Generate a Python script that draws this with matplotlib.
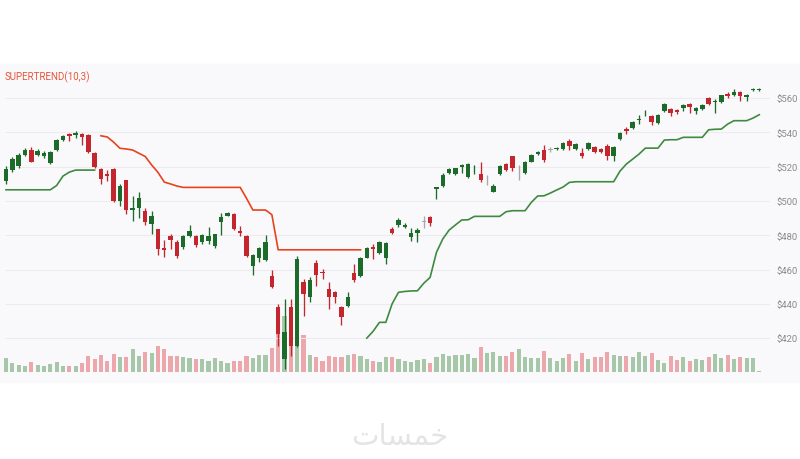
import numpy as np
import matplotlib
matplotlib.use("Agg")
import matplotlib.pyplot as plt
from matplotlib.patches import Rectangle

# daily candles, index 0..119
open_ = [511.5, 518, 520.5, 527, 530, 527, 526, 522, 529.5, 535.5,
         539, 538.5, 539, 538.5, 528, 518.5, 515.5, 518.5, 500, 512,
         494.5, 496, 494, 486.5, 483.5, 472.5, 479.5, 476, 473, 479.5,
         479.5, 476, 476.5, 473.5, 487.5, 491.5, 492.5, 482.5, 479.5, 462,
         466.5, 465.5, 456.5, 438, 408, 438, 415.5, 453, 444, 464,
         458.5, 448.5, 447, 438, 438.5, 458, 456, 467, 473, 469.5,
         467, 483.5, 486, 485, 479, 481.5, 488, 490.5, 507, 508.5,
         516.5, 515.5, 520, 514, 519, 515.5, 512, 505.5, 515.5, 521.5,
         526, 519, 516.5, 523, 527.5, 530, 530, 530.5, 530.5, 535,
         530.5, 528, 530.5, 531.5, 530.5, 532, 526.5, 536, 542, 542.5,
         547, 551, 549.5, 545.5, 552.5, 553.5, 553, 554, 556.5, 552.5,
         553.5, 560, 557.5, 557.5, 562.5, 561.5, 563.5, 560.5, 564.5, 564.5]
high = [520.5, 525.5, 528, 531, 531.5, 530.5, 529, 529, 536, 538.5,
        539.5, 540.5, 539.5, 539, 528.5, 519.5, 518, 519, 510, 512.5,
        503, 505, 496, 494, 483.5, 477, 481, 477, 480, 486,
        480, 481, 485, 481, 493, 493.5, 493, 485.5, 480, 469,
        473, 480, 460, 440, 443, 443, 468, 454.5, 455.5, 465.5,
        460.5, 452.5, 447.5, 438.5, 447, 463, 467.5, 473, 475, 476.5,
        476, 485, 490, 487, 484.5, 484.5, 491.5, 491, 508, 516.5,
        519, 519.5, 521.5, 522, 521, 522.5, 515, 510, 521, 522,
        526.5, 521, 523.5, 527.5, 529, 532.5, 531.5, 531.5, 534.5, 536,
        533.5, 531, 534.5, 532, 531, 533, 532, 540, 543, 546.5,
        550, 553, 550, 550.5, 557, 554, 553.5, 556.5, 557, 555,
        556.5, 560.5, 559.5, 562, 563.5, 565, 564, 562.5, 566, 566]
low = [510, 517, 519.5, 526, 522.5, 526, 525, 521.5, 529, 535,
       535, 536.5, 532.5, 528, 519.5, 510, 511.5, 499.5, 497, 492.5,
       488.5, 490, 486, 480.5, 468.5, 467.5, 472, 466.5, 472, 479,
       473, 475, 475, 472.5, 480, 491, 483, 479.5, 467.5, 457,
       464.5, 465, 449.5, 415.5, 402, 409.5, 415, 433, 441, 450.5,
       454.5, 437, 440.5, 427.5, 438, 453, 455.5, 466.5, 466, 469,
       463, 480.5, 485, 484, 476.5, 476, 484.5, 485.5, 501, 508,
       516, 515, 516.5, 513.5, 515.5, 511, 509.5, 505, 515, 517.5,
       517.5, 512, 516, 522.5, 527, 522.5, 528.5, 530, 530, 530,
       530, 525, 530, 528, 528, 524, 523.5, 535.5, 539, 542,
       545, 549.5, 544, 545, 552, 549.5, 550.5, 552.5, 551.5, 550.5,
       553, 556, 551, 557, 560, 561, 558.5, 558.5, 564, 564]
close = [518.5, 524.5, 527, 530, 523, 529, 528, 528.5, 535.5, 538,
         538, 539.5, 537, 528.5, 520, 513, 514.5, 500, 509, 494.5,
         496, 501.5, 488, 491.5, 472, 471.5, 477, 468, 479.5, 482.5,
         474.5, 480, 479.5, 480.5, 490.5, 493, 483.5, 481.5, 468, 468.5,
         472.5, 476, 450, 422.5, 423.5, 415.5, 466, 445.5, 454, 457,
         458, 444, 444, 432.5, 444, 454, 467, 472.5, 472, 476,
         475.5, 481.5, 489, 486, 481.5, 483, 488, 487, 508, 515,
         518.5, 519, 521, 521.5, 519.5, 512.5, 512, 509, 520.5, 518,
         519.5, 519, 523, 527, 528.5, 524, 530, 531, 534, 532,
         533, 526.5, 534, 528.5, 528.5, 526.5, 531.5, 539.5, 540.5, 546,
         548, 551.5, 546, 550, 556.5, 551.5, 552, 556, 555, 554,
         556, 556.5, 558, 561.5, 561, 563.5, 561, 562, 565, 565.5]
volume = [14, 9, 7.3, 6.7, 10, 7.3, 6.7, 8.3, 10, 6,
          6.7, 6.7, 9, 16, 13.3, 17.5, 11.7, 18.3, 15, 15,
          23.3, 16, 20, 19, 26.7, 23.3, 16, 16, 15, 14.3,
          13.3, 13.3, 11.7, 14, 11.7, 9, 11.7, 11.7, 16, 14.3,
          17.7, 17.3, 24, 38, 56, 40, 30, 37, 17.3, 15,
          11.7, 16.7, 15, 15, 17.3, 18.3, 16.7, 13.3, 11.7, 10,
          15.7, 15, 13.3, 11.7, 10.7, 12.3, 13.3, 9.3, 15.7, 18.3,
          16.7, 17.3, 17.3, 18.3, 14, 25, 19.3, 20, 16, 16,
          20, 23.3, 15.7, 14, 14, 21, 14, 11.7, 14, 18.3,
          11.7, 19.3, 13.3, 15, 15, 20.7, 17.3, 16, 16, 15,
          20, 16, 19.3, 12.7, 9.3, 16, 12.7, 15, 11.7, 13.3,
          12.3, 15, 18.3, 14, 17.3, 13.3, 15, 14, 14, 1.7]

# supertrend(10,3): uptrend band, downtrend band, uptrend band again
st_up_1 = [506.5, 506.5, 506.5, 506.5, 506.5, 506.5, 506.5, 506.5, 509, 514.5,
           516.8, 518, 518, 518, 518]
st_down = [538, 537.3, 534.3, 530.7, 530.3, 529.7, 527.8, 525.9, 521, 516.7,
           511, 509.9, 508.7, 507.9, 507.9, 507.9, 507.9, 507.9, 507.9, 507.9,
           507.9, 507.9, 507.9, 501.5, 494.7, 494.7, 494.7, 492, 471.5, 471.5,
           471.5, 471.5, 471.5, 471.5, 471.5, 471.5, 471.5, 471.5, 471.5, 471.5,
           471.5, 471.5]
st_up_2 = [420, 424, 429.2, 429.2, 440, 446.7, 447.2, 447.5, 447.6, 452,
           455.4, 470, 477.8, 483, 486, 488.9, 489, 491, 491, 491,
           491, 491, 493.7, 494.3, 494.3, 494.3, 499.2, 502.9, 503, 504.6,
           506.4, 508.1, 510.8, 511.2, 511.2, 511.2, 511.2, 511.2, 511.2, 511.2,
           517.4, 521.5, 524.4, 527.3, 530.8, 530.8, 530.8, 535.5, 535.7, 535.7,
           537.1, 537.1, 537.1, 537.1, 541.5, 541.8, 541.9, 544.8, 546.8, 546.8,
           546.8, 548.3, 550.3]

price_ticks = [420, 440, 460, 480, 500, 520, 540, 560]

GREEN = "#1d6b2a"
RED = "#c3262d"
GRAY = "#a8a8a8"
VOL_GREEN = "#a6c8a8"
VOL_RED = "#eba7ab"

fig = plt.figure(figsize=(8, 4.6), dpi=100)
fig.patch.set_facecolor("white")
# light panel behind the chart
fig.patches.append(Rectangle((0, 77 / 460), 1, 318 / 460, transform=fig.transFigure,
                             color="#f9f9fc", zorder=0))

rect = [0, 77 / 460, 770 / 800, 316 / 460]
xlim = (-0.948, -0.948 + 770 / 6.33)

o = np.array(open_)
c = np.array(close)
x = np.arange(len(o))
up = c > o
down = c < o
colors = np.where(up, GREEN, np.where(down, RED, GRAY))
vcolors = np.where(down, VOL_RED, VOL_GREEN)

# volume underneath
axv = fig.add_axes(rect, zorder=1)
axv.set_facecolor("none")
axv.bar(x, volume, width=0.66, color=vcolors, linewidth=0)
axv.set_xlim(xlim)
axv.set_ylim(-9.7, 306.3)
axv.axis("off")

ax = fig.add_axes(rect, zorder=2)
ax.set_facecolor("none")
ax.set_xlim(xlim)
ax.set_ylim(394.4, 578.7)

ax.hlines(price_ticks, -0.158, xlim[1], color="#ebebf0", linewidth=0.8, zorder=0)

# candles
ax.vlines(x, low, high, colors=colors, linewidth=0.95, zorder=2)
body = np.maximum(np.abs(c - o), 0.5)
ax.bar(x, body, bottom=np.minimum(o, c), width=0.7, color=colors, linewidth=0, zorder=3)

# supertrend
ax.plot(np.arange(0, len(st_up_1)), st_up_1, color="#3f8a3f", linewidth=1.2, zorder=4)
ax.plot(np.arange(15, 15 + len(st_down)), st_down, color="#e8421d", linewidth=1.2, zorder=4)
ax.plot(np.arange(57, 57 + len(st_up_2)), st_up_2, color="#3f8a3f", linewidth=1.2, zorder=4)

ax.yaxis.tick_right()
ax.set_yticks(price_ticks)
ax.set_yticklabels([f"${t}" for t in price_ticks], fontfamily="Roboto",
                   fontsize=6.8, color="#8a8a8a")
ax.tick_params(axis="y", length=0, pad=5)
ax.set_xticks([])
for s in ax.spines.values():
    s.set_visible(False)

fig.text(5 / 800, 1 - 77 / 460, "SUPERTREND(10,3)", fontfamily="Roboto", fontsize=7,
         color="#e8553a", va="center", ha="left")

# site watermark, glyphs given in shaped (presentation) form
fig.text(0.5, 1 - 437 / 460, "\uFE95\uFE8E\uFEB4\uFEE4\uFEA7", fontfamily="DejaVu Sans",
         fontsize=21, color="#e4e4e4", ha="center", va="center")

fig.savefig("out.png", dpi=100)
